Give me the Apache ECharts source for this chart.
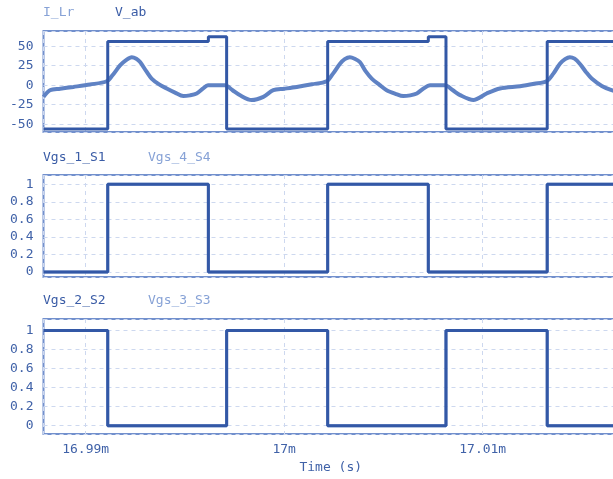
<!DOCTYPE html>
<html>
<head>
<meta charset="utf-8">
<script src="https://cdn.jsdelivr.net/npm/echarts@6/dist/echarts.min.js"></script>
<style>html,body{margin:0;padding:0;background:#fff}#c{width:613px;height:479px}</style>
</head>
<body>
<div id="c"></div>
<script>
// time in microseconds
const tMin = 16987.874, tMax = 17016.816;
const xTicks = [16990, 17000, 17010];
// I_Lr (A)
const iLrT = [16987.874,16988.20,16988.71,16989.38,16990.22,16991.06,16991.35,16991.73,16992.05,16992.32,16992.55,16992.74,16993.05,16993.32,16993.70,16994.08,16994.50,16994.92,16995.25,16995.59,16995.90,16996.16,16997.02,16997.40,16997.78,16998.36,16998.95,16999.45,17000.00,17000.63,17001.40,17002.14,17002.45,17002.81,17003.05,17003.31,17003.55,17003.81,17004.10,17004.41,17004.80,17005.16,17005.60,17006.00,17006.35,17006.68,17007.00,17007.35,17008.10,17008.50,17008.86,17009.53,17010.20,17010.87,17011.88,17012.60,17013.22,17013.55,17013.89,17014.15,17014.39,17014.63,17014.89,17015.20,17015.49,17016.00,17016.49,17016.816];
const iLrV = [-15,-6.4,-4.5,-2.2,0.9,5.1,12.7,25.4,32.5,36,34,29.7,18,8.5,1,-4.2,-9.5,-14,-13,-10.6,-4.5,0,0,-6.5,-13,-19,-14.9,-6.4,-4.5,-2.2,1.2,5.1,14.5,27.6,33.5,36,34,29.7,18,8.5,0.5,-6.4,-11,-14,-13,-10.6,-4.5,0,0,-6.5,-12.7,-19,-10.6,-4.2,-1.3,1.8,5.1,14.5,27.6,33.5,36,34,27.6,17,8.5,-1,-6.4,-8];
// V_ab (V), step values held from each time
const vabT = [16987.874,16991.11,16996.18,16997.10,17002.19,17007.26,17008.15,17013.25,17016.816];
const vabV = [-56,56,62,-56,56,62,-56,56,56];
// gate signals
const s1T = [16987.874,16991.11,16996.18,17002.19,17007.26,17013.25,17016.816];
const s1V = [0,1,0,1,0,1,1];
const s4T = s1T.slice();
const s4V = s1V.slice();
const s2T = [16987.874,16991.11,16997.10,17002.19,17008.15,17013.25,17016.816];
const s2V = [1,0,1,0,1,0,0];
const s3T = s2T.slice();
const s3V = s2V.slice();

const zip = (a,b) => a.map((t,i)=>[t,b[i]]);
const dark = '#3a5ca6', light = '#87a2d6', labelC = '#4062a8';
const mono = '"DejaVu Sans Mono", monospace';
const grids = [
  {left:43.5, width:574.5, top:31, height:101},
  {left:43.5, width:574.5, top:175, height:102},
  {left:43.5, width:574.5, top:319, height:115}
];
const yRanges = [[-60,69.5,25],[-0.057,1.106,0.2],[-0.087,1.12,0.2]];
const isMult = (v,s)=> Math.abs(v/s - Math.round(v/s)) < 1e-6;
const fmtY = s => v => {
  if (!isMult(v,s)) return '';
  const r = Math.round(v/s)*s;
  return String(parseFloat(r.toFixed(2)));
};
const split = {show:true, lineStyle:{color:'#cdd8ef', type:[4,4], width:1}};
const chart = echarts.init(document.getElementById('c'));
chart.setOption({
  animation:false,
  title:[
    {text:'I_Lr', left:43, top:6, textStyle:{fontFamily:mono, fontSize:13, fontWeight:'normal', color:light}},
    {text:'V_ab', left:115, top:6, textStyle:{fontFamily:mono, fontSize:13, fontWeight:'normal', color:dark}},
    {text:'Vgs_1_S1', left:43, top:151, textStyle:{fontFamily:mono, fontSize:13, fontWeight:'normal', color:dark}},
    {text:'Vgs_4_S4', left:148, top:151, textStyle:{fontFamily:mono, fontSize:13, fontWeight:'normal', color:light}},
    {text:'Vgs_2_S2', left:43, top:294, textStyle:{fontFamily:mono, fontSize:13, fontWeight:'normal', color:dark}},
    {text:'Vgs_3_S3', left:148, top:294, textStyle:{fontFamily:mono, fontSize:13, fontWeight:'normal', color:light}}
  ].map(t=>Object.assign({padding:0}, t)),
  grid: grids.map(g=>Object.assign({show:true, borderColor:'#7290cd', borderWidth:2, backgroundColor:'#fff', outerBoundsMode:'none', containLabel:false}, g)),
  xAxis: [0,1,2].map(i=>({
    type:'value', gridIndex:i, min:tMin, max:tMax, minInterval:10, maxInterval:10,
    axisLine:{show:false}, axisTick:{show:false},
    splitLine:split,
    axisLabel:{show:i===2, margin:9, color:labelC, fontFamily:mono, fontSize:13,
      formatter: v => isMult(v,10) ? parseFloat((Math.round(v)/1000).toFixed(2)) + 'm' : ''},
    name: i===2 ? 'Time (s)' : '', nameLocation:'middle', nameGap:27,
    nameTextStyle:{color:labelC, fontFamily:mono, fontSize:13}
  })),
  yAxis: [0,1,2].map(i=>({
    type:'value', gridIndex:i, min:yRanges[i][0], max:yRanges[i][1],
    minInterval:yRanges[i][2], maxInterval:yRanges[i][2],
    axisLine:{show:false}, axisTick:{show:false},
    splitLine:split,
    axisLabel:{margin:10, color:labelC, fontFamily:mono, fontSize:13, formatter: fmtY(yRanges[i][2])}
  })),
  series:[
    {name:'I_Lr', type:'line', xAxisIndex:0, yAxisIndex:0, data:zip(iLrT,iLrV), showSymbol:false, smooth:0.3,
      lineStyle:{color:'#5f82c4', width:4}, z:2},
    {name:'V_ab', type:'line', xAxisIndex:0, yAxisIndex:0, data:zip(vabT,vabV), showSymbol:false, step:'end',
      lineStyle:{color:'#3358a6', width:3}, z:3},
    {name:'Vgs_4_S4', type:'line', xAxisIndex:1, yAxisIndex:1, data:zip(s4T,s4V), showSymbol:false, step:'end',
      lineStyle:{color:light, width:3}, z:2},
    {name:'Vgs_1_S1', type:'line', xAxisIndex:1, yAxisIndex:1, data:zip(s1T,s1V), showSymbol:false, step:'end',
      lineStyle:{color:'#3358a6', width:3}, z:3},
    {name:'Vgs_3_S3', type:'line', xAxisIndex:2, yAxisIndex:2, data:zip(s3T,s3V), showSymbol:false, step:'end',
      lineStyle:{color:light, width:3}, z:2},
    {name:'Vgs_2_S2', type:'line', xAxisIndex:2, yAxisIndex:2, data:zip(s2T,s2V), showSymbol:false, step:'end',
      lineStyle:{color:'#3358a6', width:3}, z:3}
  ]
});
</script>
</body>
</html>
